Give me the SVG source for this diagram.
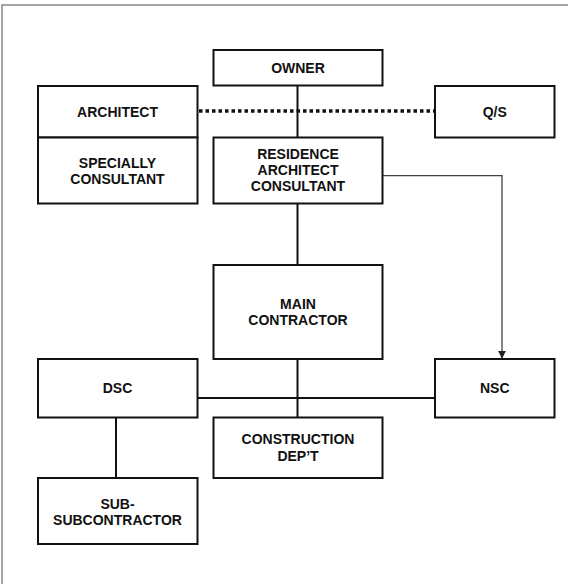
<svg xmlns="http://www.w3.org/2000/svg" width="568" height="584" viewBox="0 0 568 584">
<defs>
<style>
.box{fill:#fff;stroke:#111;stroke-width:2}
.lbl{font-family:"Liberation Sans",Arial,sans-serif;font-weight:bold;font-size:14px;fill:#111;text-anchor:middle}
.ln{fill:none;stroke:#111;stroke-width:2}
.dot{fill:none;stroke:#111;stroke-width:3.5;stroke-dasharray:3.5 3}
.arr{fill:none;stroke:#444;stroke-width:1.3}
</style>
<marker id="ah" viewBox="0 0 10 10" refX="9" refY="5" markerWidth="8" markerHeight="8" markerUnits="userSpaceOnUse" orient="auto">
<path d="M0,0 L10,5 L0,10 z" fill="#222"/>
</marker>
</defs>
<rect x="0" y="0" width="568" height="584" fill="#fff"/>
<path d="M2,584 V5 H568" fill="none" stroke="#888" stroke-width="1.5"/>
<g id="connectors">
<line class="ln" x1="297.5" y1="85.5" x2="297.5" y2="137.5"/>
<line class="ln" x1="297.5" y1="203.5" x2="297.5" y2="265"/>
<line class="ln" x1="297.5" y1="359" x2="297.5" y2="417.5"/>
<line class="ln" x1="197.5" y1="398" x2="435" y2="398"/>
<line class="ln" x1="116" y1="417.5" x2="116" y2="478"/>
<line class="dot" x1="199" y1="111" x2="435" y2="111"/>
<path class="arr" d="M382.5,175.7 H502 V358" marker-end="url(#ah)"/>
</g>
<g id="owner">
<rect class="box" x="213.5" y="50" width="169" height="35.5"/>
<text class="lbl" x="298" y="73">OWNER</text>
</g>
<g id="architect">
<rect class="box" x="38" y="86" width="159.5" height="51.5"/>
<text class="lbl" x="117.5" y="117">ARCHITECT</text>
</g>
<g id="specially-consultant">
<rect class="box" x="38" y="137.5" width="159.5" height="66"/>
<text class="lbl" x="117.5" y="168">SPECIALLY</text>
<text class="lbl" x="117.5" y="184">CONSULTANT</text>
</g>
<g id="qs">
<rect class="box" x="435" y="86" width="119.5" height="51.5"/>
<text class="lbl" x="494.75" y="117">Q/S</text>
</g>
<g id="residence">
<rect class="box" x="213.5" y="137.5" width="169" height="66"/>
<text class="lbl" x="298" y="159">RESIDENCE</text>
<text class="lbl" x="298" y="175">ARCHITECT</text>
<text class="lbl" x="298" y="191">CONSULTANT</text>
</g>
<g id="main-contractor">
<rect class="box" x="213.5" y="265" width="169" height="94"/>
<text class="lbl" x="298" y="308.5">MAIN</text>
<text class="lbl" x="298" y="325">CONTRACTOR</text>
</g>
<g id="dsc">
<rect class="box" x="38" y="359" width="159.5" height="58.5"/>
<text class="lbl" x="117.5" y="393">DSC</text>
</g>
<g id="nsc">
<rect class="box" x="435" y="359" width="119.5" height="58.5"/>
<text class="lbl" x="494.75" y="393">NSC</text>
</g>
<g id="construction">
<rect class="box" x="213.5" y="417.5" width="169" height="60.5"/>
<text class="lbl" x="298" y="444">CONSTRUCTION</text>
<text class="lbl" x="298" y="461">DEP’T</text>
</g>
<g id="sub-subcontractor">
<rect class="box" x="38" y="478" width="159.5" height="66"/>
<text class="lbl" x="117.5" y="508.5">SUB-</text>
<text class="lbl" x="117.5" y="525">SUBCONTRACTOR</text>
</g>
</svg>
